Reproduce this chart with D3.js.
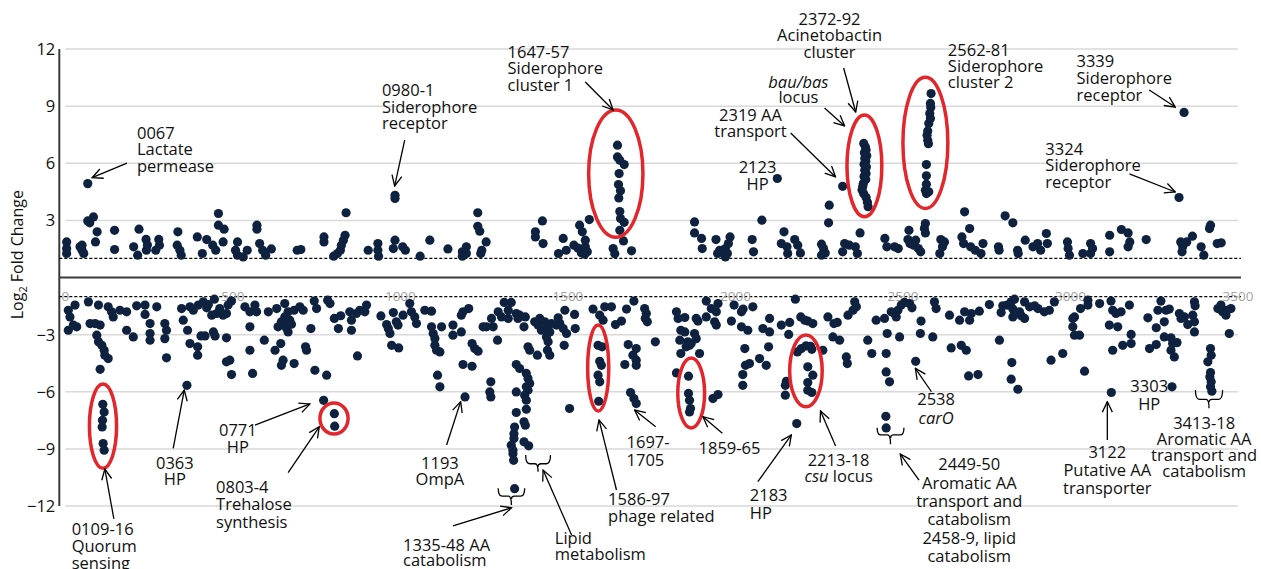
<!DOCTYPE html>
<html lang="en">
  <head>
    <meta charset="UTF-8" />
    <title>Log2 fold change by gene</title>
    <style>
      body { margin: 0; background: #fff; }
      text { font-family: "Open Sans", sans-serif; }
    </style>
  </head>
  <body>
    <script src="https://d3js.org/d3.v7.min.js"></script>
    <svg id="chart" width="1261" height="569"></svg>
    <script>
      // axis ticks
      var xTicks = [0, 500, 1000, 1500, 2000, 2500, 3000, 3500];
      var yTicks = [12, 9, 6, 3, -3, -6, -9, -12];
      var cutoffs = [1, -1];

      // [gene number, log2 fold change] - induced genes
      var upGenes = [
        [4,1.87],[4,1.52],[4,1.26],[44,1.61],[50,1.43],[55,1.26],[50,1.7],[67,4.93],[67,2.97],[84,3.18],
        [73,2.87],[95,2.4],[90,1.87],[147,2.48],[147,1.47],[204,1.61],[216,1.17],[220,2.54],[241,2.0],[245,1.71],
        [242,1.43],[279,2.0],[281,1.7],[270,1.43],[336,2.4],[334,1.7],[342,1.43],[346,1.17],[394,2.13],[409,1.26],
        [422,1.99],[457,3.36],[457,2.75],[474,2.54],[440,1.7],[449,1.43],[471,1.87],[514,1.87],[508,1.43],[514,1.17],
        [531,1.08],[543,1.43],[572,2.75],[572,2.54],[580,1.78],[589,1.43],[598,1.17],[615,1.5],[692,1.43],[703,1.47],
        [772,2.13],[772,1.87],[838,3.4],[835,2.22],[830,1.96],[824,1.7],[821,1.43],[812,1.26],[801,1.12],[904,1.43],
        [933,1.78],[933,1.43],[935,1.12],[984,4.32],[984,4.15],[984,1.96],[979,1.52],[1007,1.61],[1015,1.43],[1059,1.12],
        [1088,1.96],[1142,1.5],[1185,1.35],[1197,1.61],[1197,1.26],[1185,1.12],[1231,3.4],[1231,2.69],[1237,2.43],[1256,1.87],
        [1243,1.43],[1240,1.26],[1403,2.4],[1403,2.13],[1424,2.97],[1426,1.78],[1472,1.26],[1486,2.05],[1495,1.43],[1518,1.7],
        [1535,2.75],[1543,2.4],[1552,1.96],[1552,1.61],[1564,3.04],[1558,1.35],[1550,1.22],[1530,1.55],[1540,1.3],
        [1648,6.95],[1648,6.33],[1655,6.16],[1668,5.93],[1653,5.46],[1651,4.88],[1657,4.55],[1652,4.18],[1655,3.46],[1657,3.1],
        [1668,2.9],[1655,2.48],[1666,1.92],[1635,1.52],[1640,1.25],[1690,1.4],
        [1878,2.92],[1878,2.34],[1899,2.05],[1901,1.52],[1942,1.99],[1947,1.26],[1953,1.43],[1970,1.08],[1976,1.26],[1984,2.13],
        [1979,1.78],[1970,1.52],[2050,1.99],[2054,1.35],[2079,3.01],[2125,5.2],[2145,2.4],[2137,1.78],[2154,1.61],[2156,1.26],
        [2177,1.99],[2186,1.7],[2194,1.29],[2257,1.75],[2263,1.52],[2257,1.17],[2268,1.29],[2280,3.8],[2278,2.87],[2320,4.79],
        [2326,1.78],[2320,1.35],[2340,1.7],[2358,1.61],[2364,1.26],[2372,2.34],
        [2383,7.04],[2388,6.85],[2390,6.7],[2385,6.55],[2392,6.4],[2386,6.25],[2389,6.1],[2384,5.95],[2391,5.8],[2386,5.63],
        [2390,5.46],[2384,5.3],[2389,5.15],[2382,4.95],[2380,4.78],[2378,4.6],[2383,4.4],[2390,4.2],[2394,3.95],[2396,3.72],
        [2446,2.05],[2452,1.61],[2475,1.61],[2486,1.52],[2518,2.48],[2515,1.99],[2521,1.78],[2532,1.7],[2546,1.52],[2553,1.35],
        [2538,1.96],[2567,2.83],[2564,2.57],[2567,2.34],
        [2584,9.66],[2582,9.14],[2583,8.93],[2580,8.61],[2582,8.35],[2577,8.09],[2574,7.7],[2572,7.47],[2574,7.21],[2576,7.03],
        [2570,5.93],[2570,5.34],[2570,4.9],[2567,4.58],[2577,4.5],[2570,4.41],
        [2613,1.99],[2618,1.61],[2610,1.26],[2624,1.87],[2676,2.13],[2681,1.78],[2702,1.61],[2716,1.43],[2733,1.26],[2739,1.78],
        [2699,2.57],[2684,3.45],[2805,3.24],[2828,2.87],[2785,1.61],[2787,1.43],[2842,1.43],[2844,1.26],[2865,1.96],[2888,1.61],
        [2902,1.78],[2928,2.31],[2931,1.78],[2911,1.43],[2991,1.87],[2993,1.52],[2997,1.17],[3037,1.26],[3060,1.78],[3066,1.52],
        [3060,1.26],[3117,2.22],[3117,1.35],[3152,2.52],[3172,2.34],[3177,1.87],[3172,1.61],[3226,1.99],[3324,4.2],[3339,8.67],
        [3329,1.87],[3335,1.61],[3333,1.35],[3347,1.87],[3364,2.17],[3390,1.61],[3398,1.17],[3418,2.75],[3415,2.57],[3438,1.78],
        [3450,1.82]
      ];

      // [gene number, log2 fold change] - repressed genes
      var downGenes = [
        [9,-1.72],[14,-2.07],[29,-1.45],[9,-2.77],[24,-2.5],[34,-2.59],[69,-1.28],[74,-2.42],[89,-2.42],[99,-1.45],
        [104,-2.5],[94,-3.03],[99,-3.38],[109,-3.56],[116,-3.82],[118,-4.08],[128,-4.26],[104,-4.82],
        [112,-6.66],[116,-7.06],[111,-7.5],[110,-7.85],[113,-8.72],[116,-9.07],
        [128,-1.54],[138,-1.8],[143,-2.07],[163,-1.72],[183,-1.8],[183,-2.77],[203,-3.12],[213,-1.49],[238,-1.45],[238,-1.94],
        [253,-2.42],[253,-2.94],[253,-3.29],[273,-1.54],[297,-2.42],[302,-2.77],[297,-3.21],[302,-4.22],[347,-1.63],[352,-2.24],
        [365,-2.77],[372,-3.47],[395,-3.64],[395,-4.08],[363,-5.66],[372,-1.54],[382,-1.72],[397,-1.45],[412,-1.28],[422,-1.59],
        [427,-1.42],[437,-1.98],[445,-1.14],[452,-1.89],[461,-1.63],[471,-1.98],[481,-1.89],[486,-1.45],[496,-1.24],[405,-3.07],
        [417,-3.07],[442,-2.86],[447,-3.07],[481,-3.17],[481,-4.43],[491,-4.34],[496,-5.1],[536,-1.54],[551,-1.8],[571,-1.8],
        [566,-1.45],[551,-2.59],[551,-3.82],[559,-5.04],[594,-3.29],[606,-1.8],[626,-3.82],[643,-3.47],[631,-1.63],[655,-1.37],
        [683,-1.72],[700,-1.54],[710,-1.72],[665,-1.8],[655,-2.07],[645,-2.33],[635,-2.59],[655,-2.5],[665,-2.86],[670,-2.24],
        [660,-2.65],[675,-2.45],[650,-4.34],[645,-4.61],[683,-4.52],[717,-3.64],[720,-3.82],[733,-2.68],[743,-1.24],[750,-1.63],
        [745,-4.87],[780,-5.13],[783,-1.19],[790,-1.37],[803,-2.15],[815,-2.68],[822,-2.01],[849,-1.8],[854,-2.24],[854,-2.77],
        [869,-1.89],[879,-1.72],[899,-1.45],[872,-4.12],[771,-6.45],[803,-7.15],[804,-7.81],
        [894,-1.8],[942,-2.02],[959,-2.47],[964,-2.68],[969,-2.94],[979,-1.84],[988,-2.33],[993,-2.5],[974,-3.56],[995,-3.7],
        [1008,-1.98],[1028,-1.37],[1033,-1.8],[1043,-2.07],[1048,-2.42],[1073,-1.72],[1093,-1.77],[1093,-2.59],[1098,-2.94],[1103,-3.21],
        [1103,-3.56],[1108,-3.82],[1118,-3.91],[1123,-2.59],[1111,-5.13],[1118,-5.74],[1157,-2.5],[1157,-3.03],[1182,-1.98],[1187,-1.8],
        [1182,-2.86],[1204,-1.63],[1187,-4.57],[1214,-4.66],[1214,-3.47],[1222,-3.73],[1232,-3.87],[1193,-6.27],[1247,-2.59],[1257,-2.59],
        [1272,-2.15],[1277,-2.59],[1270,-5.48],[1267,-6.01],[1270,-6.27],[1290,-3.29],[1292,-1.8],[1302,-2.07],[1310,-1.31],[1322,-1.72],
        [1331,-1.31],[1322,-2.15],[1346,-1.89],[1351,-2.15],[1356,-1.98],[1373,-2.07],[1369,-2.59],
        [1346,-4.57],[1356,-4.78],[1376,-5.04],[1381,-5.31],[1386,-5.57],[1376,-5.74],[1381,-5.92],[1371,-6.18],[1376,-6.44],[1346,-6.01],
        [1346,-7.09],[1376,-6.92],[1341,-7.85],[1369,-7.58],[1373,-7.76],[1339,-8.2],[1339,-8.46],[1331,-8.81],[1336,-9.07],[1336,-9.25],
        [1338,-9.6],[1369,-8.63],[1383,-8.84],[1341,-11.09],
        [1381,-3.64],[1386,-3.82],[1409,-4.08],[1401,-2.33],[1411,-2.5],[1416,-2.15],[1421,-2.77],[1431,-2.33],[1436,-2.68],[1441,-3.38],
        [1439,-3.82],[1446,-4.08],[1436,-3.12],[1446,-2.86],[1451,-2.42],[1466,-2.5],[1471,-2.12],[1476,-2.42],[1486,-2.68],[1489,-3.56],
        [1491,-1.72],[1496,-2.94],[1520,-1.94],[1522,-2.68],[1505,-6.88],[1575,-1.66],[1595,-1.98],[1605,-2.24],[1610,-1.54],[1630,-1.54],
        [1642,-2.47],[1660,-2.29],[1675,-1.66],[1697,-1.24],[1729,-1.63],[1734,-1.89],[1731,-2.15],[1737,-2.33],
        [1590,-3.56],[1602,-3.64],[1595,-4.4],[1600,-4.61],[1590,-5.13],[1595,-5.48],[1592,-6.5],
        [1680,-3.52],[1704,-3.73],[1694,-4.08],[1704,-4.34],[1670,-4.57],[1704,-4.61],[1687,-6.04],[1697,-6.36],[1704,-6.62],
        [1761,-3.38],[1824,-1.8],[1829,-2.15],[1837,-2.77],[1834,-3.29],[1837,-3.99],[1824,-5.01],
        [1849,-2.86],[1853,-3.64],[1863,-3.56],[1858,-3.38],[1868,-3.47],[1878,-2.94],[1883,-2.15],[1888,-2.29],[1893,-3.99],[1883,-3.21],
        [1849,-2.1],[1913,-1.24],[1913,-2.07],[1928,-1.63],[1938,-2.33],[1948,-1.37],[1943,-2.5],[1943,-1.8],
        [1860,-5.18],[1860,-6.09],[1863,-6.45],[1866,-6.88],[1863,-7.06],[1933,-6.36],[1948,-6.15],
        [1988,-2.29],[1996,-1.45],[2018,-1.8],[2023,-1.66],[2052,-1.54],[2018,-2.59],[2037,-2.77],[2028,-3.73],[2030,-4.61],[2042,-4.52],
        [2022,-5.1],[2022,-5.66],[2072,-4.26],[2092,-4.61],[2082,-2.68],[2102,-2.15],[2102,-2.86],[2099,-3.64],[2137,-2.5],[2162,-2.36],
        [2159,-2.99],[2179,-1.14],[2195,-2.07],[2207,-2.24],[2216,-2.29],[2231,-2.42],[2183,-7.67],[2152,-5.45],[2149,-5.66],[2149,-6.18],
        [2185,-3.91],[2197,-3.73],[2211,-3.59],[2224,-3.61],[2228,-3.77],[2216,-4.69],[2231,-5.13],[2216,-5.52],[2216,-5.92],[2228,-6.04],
        [2261,-3.82],[2276,-2.07],[2291,-3.12],[2294,-2.42],[2304,-2.36],[2311,-3.29],[2331,-4.17],[2334,-4.52],[2336,-1.98],[2351,-1.72],
        [2356,-1.28],[2361,-1.54],[2395,-3.29],[2407,-3.99],[2420,-2.24],[2445,-2.15],[2453,-2.94],[2465,-1.8],[2475,-1.89],[2480,-2.07],
        [2490,-3.12],[2485,-1.72],[2495,-1.45],[2505,-1.31],[2520,-1.37],[2527,-1.59],[2552,-2.94],[2554,-2.29],[2589,-3.12],[2599,-1.63],
        [2594,-1.28],[2450,-3.99],[2450,-4.96],[2460,-5.48],[2449,-7.29],[2450,-7.9],[2538,-4.4],
        [2639,-1.98],[2644,-3.7],[2669,-2.24],[2674,-3.56],[2684,-1.8],[2689,-3.82],[2699,-2.24],[2704,-1.89],[2728,-1.77],[2696,-5.17],
        [2724,-5.1],[2758,-1.42],
        [2788,-3.29],[2793,-1.84],[2798,-1.49],[2811,-1.45],[2823,-1.28],[2828,-1.66],[2833,-1.14],[2828,-2.07],[2825,-4.47],[2823,-5.34],
        [2843,-5.87],[2848,-1.8],[2853,-2.01],[2863,-2.15],[2863,-1.28],[2878,-1.54],[2893,-1.49],[2903,-1.63],[2922,-1.8],[2937,-1.72],
        [2942,-4.34],[2952,-1.28],[2977,-3.99],[3007,-2.15],[3012,-2.07],[3007,-2.59],[3012,-3.03],[3027,-3.03],[3030,-1.63],[3042,-4.92],
        [3052,-1.45],[3052,-1.19],[3087,-1.37],[3116,-2.5],[3126,-3.82],[3121,-1.24],[3126,-1.72],[3136,-1.89],[3141,-2.59],[3151,-1.8],
        [3156,-3.56],[3176,-1.45],[3181,-2.99],[3181,-3.47],[3122,-6.04],
        [3231,-2.12],[3236,-3.73],[3256,-2.64],[3256,-3.52],[3261,-1.72],[3270,-1.24],[3280,-2.33],[3280,-3.12],[3285,-1.72],[3295,-1.66],
        [3300,-3.17],[3305,-3.47],[3300,-3.82],[3310,-4.17],[3318,-3.42],[3325,-1.89],[3330,-2.15],[3340,-2.07],[3350,-2.47],[3365,-1.98],
        [3370,-2.33],[3370,-2.86],[3372,-1.49],[3370,-1.28],[3303,-5.74],
        [3418,-3.73],[3420,-4.08],[3410,-4.43],[3418,-4.99],[3416,-5.22],[3420,-5.48],[3418,-5.74],[3422,-5.97],
        [3440,-1.63],[3449,-1.45],[3454,-1.8],[3464,-1.98],[3467,-1.72],[3474,-2.94],[3479,-1.63]
      ];

      // annotation text, placed at [gene, log2FC]; *...* = italic
      var notes = [
        { lines: ["0067", "Lactate", "permease"], at: [214, 7.61], anchor: "start", lh: 16.5 },
        { lines: ["0980-1", "Siderophore", "receptor"], at: [945, 9.85], anchor: "start", lh: 16.7 },
        { lines: ["1647-57", "Siderophore", "cluster 1"], at: [1320, 11.86], anchor: "start", lh: 16.7 },
        { lines: ["2372-92", "Acinetobactin", "cluster"], at: [2281, 13.56], anchor: "middle", lh: 16.2 },
        { lines: ["*bau/bas*", "locus"], at: [2188, 10.28], anchor: "middle", lh: 15.6 },
        { lines: ["2319 AA", "transport"], at: [2045, 8.53], anchor: "middle", lh: 15.7 },
        { lines: ["2123", "HP"], at: [2066, 5.82], anchor: "middle", lh: 17.3 },
        { lines: ["2562-81", "Siderophore", "cluster 2"], at: [2634, 11.95], anchor: "start", lh: 16 },
        { lines: ["3339", "Siderophore", "receptor"], at: [3018, 11.37], anchor: "start", lh: 17 },
        { lines: ["3324", "Siderophore", "receptor"], at: [2925, 6.75], anchor: "start", lh: 16.4 },
        { lines: ["0109-16", "Quorum", "sensing"], at: [19, -13.22], anchor: "start", lh: 16.7 },
        { lines: ["0363", "HP"], at: [327, -9.73], anchor: "middle", lh: 16.6 },
        { lines: ["0771", "HP"], at: [515, -8.01], anchor: "middle", lh: 17.3 },
        { lines: ["0803-4", "Trehalose", "synthesis"], at: [450, -10.99], anchor: "start", lh: 17.5 },
        { lines: ["1193", "OmpA"], at: [1118, -9.73], anchor: "middle", lh: 16.6 },
        { lines: ["1335-48 AA", "catabolism"], at: [1008, -14.05], anchor: "start", lh: 15 },
        { lines: ["Lipid", "metabolism"], at: [1461, -13.7], anchor: "start", lh: 15.7 },
        { lines: ["1586-97", "phage related"], at: [1620, -11.65], anchor: "start", lh: 16.7 },
        { lines: ["1697-", "1705"], at: [1675, -8.62], anchor: "start", lh: 18.3 },
        { lines: ["1859-65"], at: [1890, -8.97], anchor: "start", lh: 16 },
        { lines: ["2183", "HP"], at: [2043, -11.42], anchor: "start", lh: 17.7 },
        { lines: ["2213-18", "*csu* locus"], at: [2308, -9.59], anchor: "middle", lh: 16 },
        { lines: ["2449-50", "Aromatic AA", "transport and", "catabolism", "2458-9, lipid", "catabolism"], at: [2698, -9.81], anchor: "middle", lh: 18.4 },
        { lines: ["2538", "*carO*"], at: [2599, -6.4], anchor: "middle", lh: 18.4 },
        { lines: ["3122", "Putative AA", "transporter"], at: [3110, -9.15], anchor: "middle", lh: 18.3 },
        { lines: ["3303", "HP"], at: [3235, -5.7], anchor: "middle", lh: 18 },
        { lines: ["3413-18", "Aromatic AA", "transport and", "catabolism"], at: [3399, -7.63], anchor: "middle", lh: 16 }
      ];

      // arrows: [from, to] in [gene, log2FC]
      var arrows = [
        [[184, 6.01], [80, 5.24]], [[1013, 7.22], [983, 4.81]], [[1552, 10.27], [1635, 8.8]],
        [[2323, 11.0], [2359, 8.69]], [[2266, 8.9], [2326, 7.96]], [[2165, 7.59], [2299, 5.28]],
        [[3235, 9.85], [3313, 8.95]], [[3176, 5.44], [3313, 4.49]],
        [[145, -12.68], [118, -10.06]], [[322, -8.97], [355, -5.91]], [[566, -7.75], [730, -6.64]],
        [[665, -10.25], [758, -7.84]], [[1138, -8.8], [1180, -6.52]], [[1157, -13.05], [1332, -12.09]],
        [[1511, -13.52], [1426, -10.11]], [[1645, -11.16], [1593, -7.48]], [[1762, -7.84], [1699, -6.96]],
        [[1961, -8.18], [1903, -7.31]], [[2067, -10.72], [2167, -8.27]], [[2299, -8.85], [2254, -7.01]],
        [[2548, -10.64], [2492, -9.27]], [[2585, -6.0], [2537, -4.77]], [[3110, -8.53], [3110, -6.52]]
      ];

      // highlighted clusters: [gene from, gene to, log2FC top, log2FC bottom]
      var clusters = [
        [1562, 1724, 8.8, 2.11], [2333, 2437, 8.53, 3.19], [2500, 2634, 10.51, 3.63],
        [72, 153, -5.59, -10.02], [760, 844, -6.59, -8.22], [1559, 1622, -2.49, -7.01],
        [1828, 1908, -4.23, -7.9], [2162, 2259, -3.02, -6.79]
      ];

      // braces: [gene from, gene to, top, bar, tip]
      var braces = [
        [1292, 1371, -11.07, -11.48, -11.95], [1374, 1448, -9.32, -9.78, -10.2],
        [2423, 2503, -7.89, -8.27, -8.76], [3373, 3454, -5.91, -6.4, -6.87]
      ];

      var svg = d3.select("#chart");

      var x = d3.scaleLinear().domain([0, 3500]).range([65.3, 1238]);
      var y = d3.scaleLinear().domain([-12, 12]).range([506, 49]);
      var axisX = x(0) - 6;

      var defs = svg.append("defs");
      defs
        .append("marker")
        .attr("id", "head")
        .attr("viewBox", "0 0 12 12")
        .attr("refX", 11)
        .attr("refY", 6)
        .attr("markerWidth", 12)
        .attr("markerHeight", 12)
        .attr("markerUnits", "userSpaceOnUse")
        .attr("orient", "auto")
        .append("path")
        .attr("d", "M0.5,1 L11,6 L0.5,11")
        .attr("fill", "none")
        .attr("stroke", "#000")
        .attr("stroke-width", 1.3);

      // grid
      svg
        .append("g")
        .selectAll("line")
        .data(yTicks)
        .enter()
        .append("line")
        .attr("x1", x(0))
        .attr("x2", x(3500))
        .attr("y1", function (d) { return y(d); })
        .attr("y2", function (d) { return y(d); })
        .attr("stroke", "#d9d9d9")
        .attr("stroke-width", 1.5);

      // y axis
      svg
        .append("line")
        .attr("x1", axisX)
        .attr("x2", axisX)
        .attr("y1", y(12))
        .attr("y2", y(-12))
        .attr("stroke", "#3a3a3a")
        .attr("stroke-width", 2);

      svg
        .append("g")
        .selectAll("text")
        .data(yTicks)
        .enter()
        .append("text")
        .attr("x", axisX - 4)
        .attr("y", function (d) { return y(d); })
        .attr("dy", "0.36em")
        .attr("text-anchor", "end")
        .attr("font-size", 16.5)
        .attr("fill", "#111")
        .text(d3.format("d"));

      var ylab = svg
        .append("text")
        .attr("transform", "translate(23," + y(1.2) + ") rotate(-90)")
        .attr("text-anchor", "middle")
        .attr("font-size", 16)
        .attr("fill", "#111");
      ylab.append("tspan").text("Log");
      ylab.append("tspan").attr("font-size", 11).attr("dy", 4).text("2");
      ylab.append("tspan").attr("dy", -4).text(" Fold Change");

      // zero line and cutoffs
      svg
        .append("line")
        .attr("x1", axisX)
        .attr("x2", x(3500) + 3)
        .attr("y1", y(0))
        .attr("y2", y(0))
        .attr("stroke", "#3a3a3a")
        .attr("stroke-width", 2);

      svg
        .append("g")
        .selectAll("line")
        .data(cutoffs)
        .enter()
        .append("line")
        .attr("x1", axisX)
        .attr("x2", x(3500) + 3)
        .attr("y1", function (d) { return y(d); })
        .attr("y2", function (d) { return y(d); })
        .attr("stroke", "#000")
        .attr("stroke-width", 1.2)
        .attr("stroke-dasharray", "3,2");

      // x tick labels sit on the lower cutoff line
      svg
        .append("g")
        .selectAll("text")
        .data(xTicks)
        .enter()
        .append("text")
        .attr("x", function (d) { return x(d); })
        .attr("y", y(-1))
        .attr("dy", "0.36em")
        .attr("text-anchor", "middle")
        .attr("font-size", 13.5)
        .attr("fill", "#a3a3a3")
        .text(function (d) { return d; });

      // genes
      var dots = svg.append("g").attr("fill", "#0e2240");
      dots
        .selectAll("circle")
        .data(upGenes.concat(downGenes))
        .enter()
        .append("circle")
        .attr("cx", function (d) { return x(d[0]); })
        .attr("cy", function (d) { return y(d[1]); })
        .attr("r", 4.6);

      // red rings
      svg
        .append("g")
        .selectAll("ellipse")
        .data(clusters)
        .enter()
        .append("ellipse")
        .attr("cx", function (d) { return (x(d[0]) + x(d[1])) / 2; })
        .attr("cy", function (d) { return (y(d[2]) + y(d[3])) / 2; })
        .attr("rx", function (d) { return (x(d[1]) - x(d[0])) / 2; })
        .attr("ry", function (d) { return (y(d[3]) - y(d[2])) / 2; })
        .attr("fill", "none")
        .attr("stroke", "#e3262b")
        .attr("stroke-width", 3.5);

      // braces
      svg
        .append("g")
        .selectAll("path")
        .data(braces)
        .enter()
        .append("path")
        .attr("d", function (d) {
          var x0 = x(d[0]), x1 = x(d[1]), xm = (x0 + x1) / 2;
          var yt = y(d[2]), yb = y(d[3]), yp = y(d[4]);
          return "M" + x0 + "," + yt + " Q" + x0 + "," + yb + " " + (x0 + 4) + "," + yb +
            " H" + (xm - 3) + " Q" + xm + "," + yb + " " + xm + "," + yp +
            " M" + (xm + 3) + "," + yb + " Q" + xm + "," + yb + " " + xm + "," + (yb + 3) +
            " M" + (xm + 3) + "," + yb + " H" + (x1 - 4) + " Q" + x1 + "," + yb + " " + x1 + "," + yt;
        })
        .attr("fill", "none")
        .attr("stroke", "#000")
        .attr("stroke-width", 1.3);

      // arrows
      svg
        .append("g")
        .selectAll("line")
        .data(arrows)
        .enter()
        .append("line")
        .attr("x1", function (d) { return x(d[0][0]); })
        .attr("y1", function (d) { return y(d[0][1]); })
        .attr("x2", function (d) { return x(d[1][0]); })
        .attr("y2", function (d) { return y(d[1][1]); })
        .attr("stroke", "#000")
        .attr("stroke-width", 1.3)
        .attr("marker-end", "url(#head)");

      // labels
      var lab = svg.append("g").attr("font-size", 16.5).attr("fill", "#111");
      notes.forEach(function (n) {
        n.lines.forEach(function (line, i) {
          var t = lab
            .append("text")
            .attr("x", x(n.at[0]))
            .attr("y", y(n.at[1]) + i * n.lh)
            .attr("dy", "0.36em")
            .attr("text-anchor", n.anchor);
          line.split("*").forEach(function (part, k) {
            if (!part) return;
            t.append("tspan")
              .attr("font-style", k % 2 ? "italic" : "normal")
              .text(part);
          });
        });
      });
    </script>
  </body>
</html>
